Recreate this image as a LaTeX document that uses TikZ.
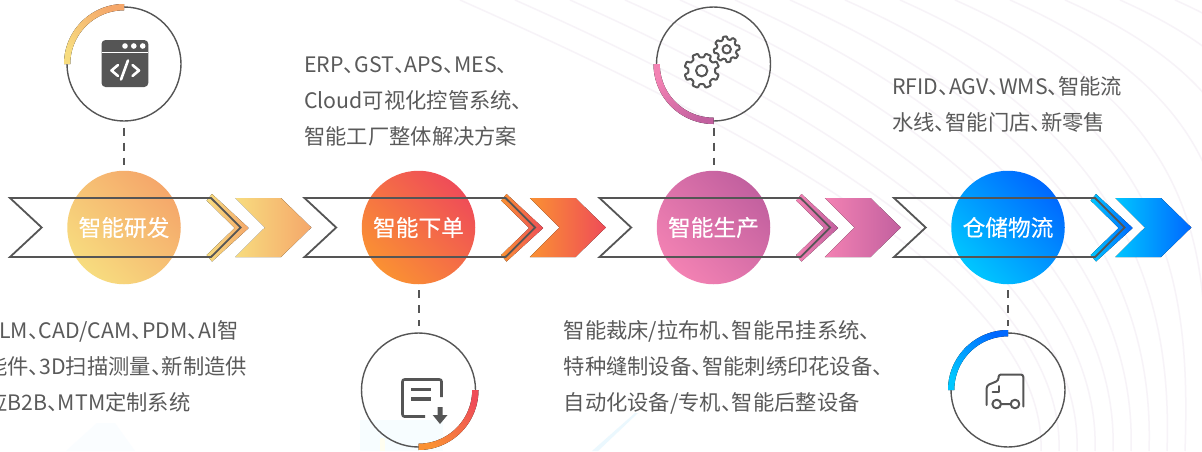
\documentclass[tikz,border=0pt]{standalone}
\usepackage{fontspec}
\setmainfont[RawFeature=+halt]{Noto Sans CJK SC}
\newfontfamily\lblfont[FakeBold=0.35]{Noto Sans CJK SC}
\usetikzlibrary{calc}
\definecolor{ink}{HTML}{555555}
\definecolor{txt}{HTML}{5A5A5A}
\definecolor{bgline}{HTML}{F7F3F8}
\definecolor{yA}{HTML}{F7DC7F}\definecolor{yB}{HTML}{F5A76A}
\definecolor{oA}{HTML}{FA9133}\definecolor{oB}{HTML}{EF4C58}
\definecolor{pA}{HTML}{F382B3}\definecolor{pB}{HTML}{C2609F}
\definecolor{bA}{HTML}{00C6FF}\definecolor{bB}{HTML}{0068FF}
\tikzset{
  x=1pt,y=-1pt,
  ringnode/.style={circle,draw=ink,line width=1.4pt,minimum size=114pt,inner sep=0pt},
  bignode/.style={circle,minimum size=113.5pt,inner sep=0pt,text=white,font=\lblfont\fontsize{22.7}{26}\selectfont},
  ribbonline/.style={draw=ink,line width=1.8pt,miter limit=10},
  dashline/.style={draw=ink,line width=2pt,dash pattern=on 8pt off 7pt,shorten <=6pt,shorten >=6pt},
  para/.style={anchor=north west,align=left,text=txt,inner sep=0pt,font=\fontsize{21.3}{36}\selectfont},
  iconline/.style={draw=ink,line width=2pt,line cap=round,line join=round},
  bg/.style={draw=bgline,line width=1.5pt},
}
% sector of the thick coloured arc on a ring
\newcommand{\ringarc}[5]{%
  \fill[#5] plot[domain=#3:#4,samples=40]({#1+60*cos(\x)},{#2+60*sin(\x)})
    -- plot[domain=#4:#3,samples=40]({#1+53.7*cos(\x)},{#2+53.7*sin(\x)}) -- cycle;}
% one stage of the ribbon
\newcommand{\stage}[7]{%
  \node[bignode,bottom color=#4,top color=#5,shading angle=-45] (#1) at ({124+#2},227.5) {\raisebox{1pt}{#6}};
  \begin{scope}[shift={(#2,0)}]
    \fill[left color=#4,right color=#5]
      (212,194) -- (248.7,228) -- (212,261.5) -- (206.7,255) -- (234.7,228) -- (206.7,200.5) -- cycle;
    \path[ribbonline] (10,198) -- (211,198) -- (240.7,227.5) -- (211,257) -- (10,257) -- (41.7,227.5) -- cycle;
  \end{scope}
  \begin{scope}[shift={(#3,0)}]
    \fill[left color=#4,right color=#5]
      (235.3,198) -- (281,198) -- (311.3,227.5) -- (281,257) -- (235.3,257) -- (265,227.5) -- cycle;
  \end{scope}
  #7}
% gear outline
\newcommand{\gearicon}[5]{%
  \begin{scope}[shift={(#1,#2)}]
    \draw[iconline,rounded corners=0.8pt]
      (#5-13:#4) \foreach \a in {0,45,...,315}{
        -- (#5+\a-13:#4) -- (#5+\a-9:#3) -- (#5+\a+9:#3) -- (#5+\a+13:#4)
      } -- cycle;
    \draw[iconline] (0,0) circle[radius=#3*0.42];
  \end{scope}}
\begin{document}
\begin{tikzpicture}
\useasboundingbox (0,0) rectangle (1202,451);
\clip (0,0) rectangle (1202,451);
\fill[white] (0,0) rectangle (1202,451);
% background curves
\foreach \k in {-8,...,12}{
  \pgfmathsetmacro{\T}{900+55*\k}
  \pgfmathsetmacro{\B}{1185+18*\k}
  \draw[bg] (\T,0) .. controls ({\T+270},120) and ({\B+6},280) .. (\B,451);
}
% faint bottom shapes
\fill[white!97!cyan] (360,420) rectangle (443,451);
\fill[white!94!yellow] (380,438) rectangle (385,451);
\fill[white!92!cyan] (592,451) -- (635,413) -- (638,413) -- (598,451) -- cycle;
\fill[white!98!cyan] (66,451) -- (97,423) -- (115,423) -- (135,451) -- cycle;

% stages
\stage{big1}{0}{0}{yA}{yB}{智能研发}{}
\stage{big2}{294.5}{294.5}{oA}{oB}{智能下单}{}
\stage{big3}{589.5}{589.5}{pA}{pB}{智能生产}{}
\stage{big4}{884}{880}{bA}{bB}{仓储物流}{}

% icon rings
\node[ringnode] (icon1) at (124,64) {};
\node[ringnode] (icon2) at (418.5,390) {};
\node[ringnode] (icon3) at (713.5,64) {};
\node[ringnode] (icon4) at (1008,390) {};
\ringarc{124}{64}{180}{270}{bottom color=yA,top color=yB,shading angle=-45}
\ringarc{418.5}{390}{0}{90}{bottom color=oA,top color=oB,shading angle=-45}
\ringarc{713.5}{64}{90}{180}{bottom color=pB,top color=pA,shading angle=45}
\ringarc{1008}{390}{180}{270}{bottom color=bA,top color=bB,shading angle=-45}

% connectors
\draw[dashline] (icon1.south) -- (big1.north);
\draw[dashline] (big2.south) -- (icon2.north);
\draw[dashline] (icon3.south) -- (big3.north);
\draw[dashline] (big4.south) -- (icon4.north);

% icon 1: code window
\fill[ink,rounded corners=4pt] (101.5,40) rectangle (148.3,87);
\draw[white,line width=1.5pt] (101.5,52.6) -- (148.3,52.6);
\foreach \c in {125,133.8,142.7}{\fill[white] (\c,46) circle[radius=2.8];}
\draw[white,line width=2.6pt,line cap=round,line join=round]
  (118,65) -- (111.5,70.5) -- (118,76) (128,60.5) -- (121,79.5) (132.5,65) -- (139,70.5) -- (132.5,76);

% icon 2: document with arrow
\draw[iconline,line width=2.6pt,rounded corners=2pt,line cap=butt]
  (441.5,397) -- (441.5,379.5) -- (402.5,379.5) -- (402.5,416.5) -- (425,416.5);
\draw[ink,line width=3.4pt] (411,389.3) -- (431,389.3) (411,399) -- (431,399);
\fill[ink] (437.7,407) -- (442.6,407) -- (442.6,415) -- (447.5,415) -- (440,424) -- (432.7,415) -- (437.7,415) -- cycle;

% icon 3: gears
\gearicon{701.7}{70.7}{13.5}{17.5}{0}
\gearicon{726.7}{49.3}{10}{13}{14}

% icon 4: truck
\draw[iconline,rounded corners=2.5pt]
  (1023.3,406.5) -- (1023.3,374.5) -- (998.5,374.5) -- (998.5,380.5) -- (986.7,385.5) -- (986.7,405);
\draw[iconline] (998.5,386) -- (998.5,392.3) -- (992.5,392.3);
\draw[iconline] (996.7,404) circle[radius=4.3] (1015,404) circle[radius=4.3] (1001,404) -- (1010.7,404);

% texts
\node[para] (t1) at (-14,320) {\hspace{13pt}LM、CAD/CAM、PDM、AI智\\能件、3D扫描测量、新制造供\\应B2B、MTM定制系统};
\node[para] (t2) at (304,56) {ERP、GST、APS、MES、\\Cloud可视化控管系统、\\智能工厂整体解决方案};
\node[para] (t3) at (563.5,320) {智能裁床/拉布机、智能吊挂系统、\\特种缝制设备、智能刺绣印花设备、\\自动化设备/专机、智能后整设备};
\node[para] (t4) at (892,76) {RFID、AGV、WMS、智能流\\水线、智能门店、新零售};
\end{tikzpicture}
\end{document}
